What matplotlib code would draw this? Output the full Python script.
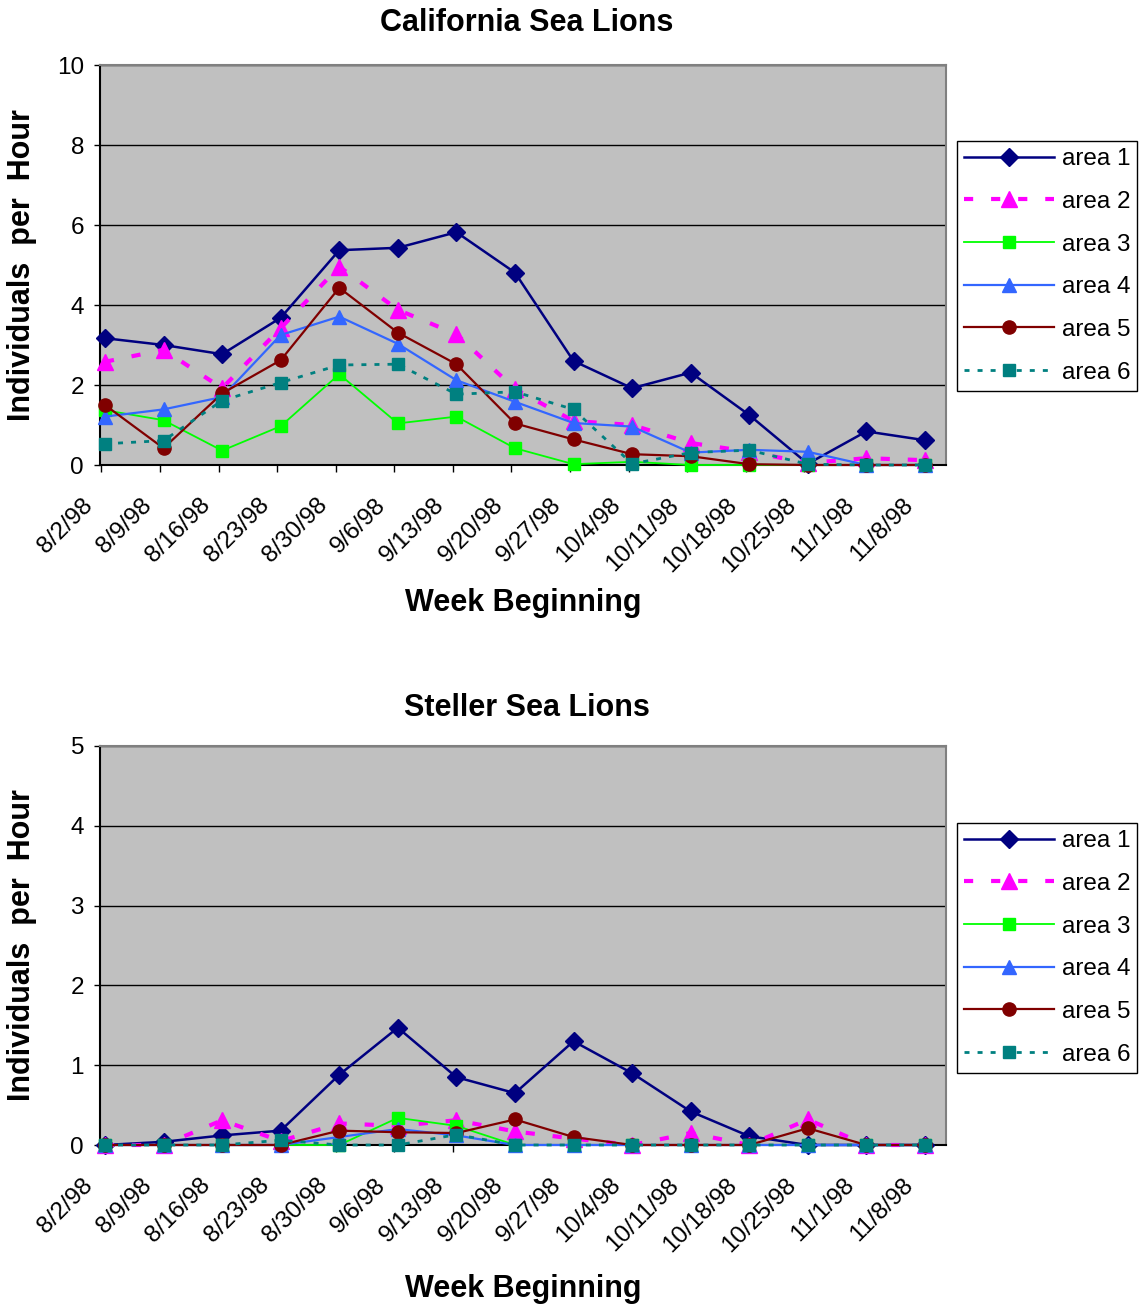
import matplotlib.pyplot as plt
from matplotlib.transforms import ScaledTranslation

plt.rcParams['font.family'] = ['Liberation Sans', 'DejaVu Sans']

weeks = ['8/2/98', '8/9/98', '8/16/98', '8/23/98', '8/30/98', '9/6/98',
         '9/13/98', '9/20/98', '9/27/98', '10/4/98', '10/11/98', '10/18/98',
         '10/25/98', '11/1/98', '11/8/98']

# California sea lions, individuals per hour by area
cal_area1 = [3.17, 3.0, 2.77, 3.68, 5.37, 5.43, 5.82, 4.81, 2.6, 1.92, 2.31, 1.25, 0.03, 0.84, 0.62]
cal_area2 = [2.58, 2.88, 1.92, 3.42, 4.96, 3.88, 3.27, 1.9, 1.1, 1.0, 0.55, 0.33, 0.05, 0.17, 0.12]
cal_area3 = [1.37, 1.12, 0.36, 0.97, 2.27, 1.04, 1.21, 0.42, 0.02, 0.08, 0.0, 0.0, 0.0, 0.0, 0.0]
cal_area4 = [1.21, 1.39, 1.7, 3.25, 3.71, 3.03, 2.12, 1.58, 1.05, 0.96, 0.31, 0.38, 0.33, 0.0, 0.0]
cal_area5 = [1.5, 0.42, 1.79, 2.62, 4.43, 3.31, 2.52, 1.04, 0.64, 0.27, 0.22, 0.02, 0.0, 0.0, 0.0]
cal_area6 = [0.53, 0.61, 1.61, 2.06, 2.5, 2.52, 1.77, 1.83, 1.39, 0.03, 0.31, 0.37, 0.02, 0.0, 0.0]

# Steller sea lions
stl_area1 = [0.0, 0.04, 0.12, 0.18, 0.88, 1.47, 0.85, 0.65, 1.3, 0.9, 0.42, 0.11, 0.0, 0.0, 0.0]
stl_area2 = [0.0, 0.0, 0.31, 0.05, 0.27, 0.24, 0.31, 0.17, 0.08, 0.0, 0.15, 0.0, 0.32, 0.0, 0.0]
stl_area3 = [0.0, 0.0, 0.0, 0.0, 0.0, 0.34, 0.24, 0.0, 0.0, 0.0, 0.0, 0.0, 0.0, 0.0, 0.0]
stl_area4 = [0.0, 0.0, 0.0, 0.0, 0.1, 0.2, 0.12, 0.0, 0.0, 0.0, 0.0, 0.0, 0.0, 0.0, 0.0]
stl_area5 = [0.0, 0.0, 0.0, 0.0, 0.18, 0.16, 0.15, 0.32, 0.1, 0.0, 0.0, 0.0, 0.21, 0.0, 0.0]
stl_area6 = [0.0, 0.0, 0.0, 0.06, 0.0, 0.0, 0.13, 0.0, 0.0, 0.0, 0.0, 0.0, 0.0, 0.0, 0.0]

labels = ['area 1', 'area 2', 'area 3', 'area 4', 'area 5', 'area 6']

# line style for each area: colour, marker, marker size, line style, line width
styles = [
    ('#000080', 'D', 9, '-', 1.8),
    ('#FF00FF', '^', 11, (0, (2.2, 4.3)), 3.0),
    ('#00FF00', 's', 8, '-', 1.3),
    ('#3366FF', '^', 10.5, '-', 1.6),
    ('#800000', 'o', 9.5, '-', 1.6),
    ('#008080', 's', 9, (0, (1.8, 2.9)), 2.0),
]

W, H = 1139, 1305
fig = plt.figure(figsize=(W / 100, H / 100), dpi=100)
fig.patch.set_facecolor('white')


def px(x0, y0, x1, y1):
    return [x0 / W, 1 - y1 / H, (x1 - x0) / W, (y1 - y0) / H]


def draw_panel(rect, series, ymax, ystep, title, title_y, xlabel_y, legend_top):
    ax = fig.add_axes(rect)
    ax.set_facecolor('#C0C0C0')
    x = list(range(len(weeks)))
    handles = []
    for i, (vals, (c, m, ms, ls, lw)) in enumerate(zip(series, styles)):
        h, = ax.plot(x, vals, color=c, marker=m, markersize=ms, linestyle=ls,
                     linewidth=lw, markerfacecolor=c, markeredgecolor=c,
                     clip_on=False, zorder=3 + i, label=labels[i])
        handles.append(h)

    ax.set_xlim(-0.085, 14.36)
    ax.set_ylim(0, ymax)
    ax.set_yticks([v * ystep for v in range(int(ymax / ystep) + 1)])
    ax.tick_params(axis='y', direction='out', length=4.5, width=1, labelsize=17.5, pad=7)
    ax.yaxis.grid(True, color='black', linewidth=1)
    ax.set_axisbelow(True)

    ax.set_xticks([v - 0.06 for v in x])
    ax.set_xticklabels(weeks, rotation=45, ha='right', fontsize=17.5)
    ax.tick_params(axis='x', direction='out', length=5, width=1, pad=16)
    shift = ScaledTranslation(-4 / 100, 0, fig.dpi_scale_trans)
    for lab in ax.get_xticklabels():
        lab.set_transform(lab.get_transform() + shift)

    for s in ['left', 'bottom']:
        ax.spines[s].set_color('black')
        ax.spines[s].set_linewidth(1.5)
    for s in ['top', 'right']:
        ax.spines[s].set_color('#808080')
        ax.spines[s].set_linewidth(1.5)

    cx = (rect[0] + rect[2] / 2)
    fig.text(527 / W, 1 - title_y / H, title, ha='center', va='center',
             fontsize=22, fontweight='bold')
    fig.text(cx, 1 - xlabel_y / H, 'Week Beginning', ha='center', va='center',
             fontsize=22, fontweight='bold')
    fig.text(22 / W, rect[1] + rect[3] / 2, 'Individuals  per  Hour', ha='center',
             va='center', rotation=90, fontsize=22, fontweight='bold')

    leg = fig.legend(handles=handles, loc='upper left',
                     bbox_to_anchor=(957 / W, 1 - legend_top / H),
                     fontsize=17.5, handlelength=3.7, handletextpad=0.3,
                     borderpad=0.3, labelspacing=0.85, borderaxespad=0,
                     fancybox=False, framealpha=1, edgecolor='black',
                     numpoints=1)
    leg.get_frame().set_linewidth(1)
    return ax


draw_panel(px(100, 65, 946, 465),
           [cal_area1, cal_area2, cal_area3, cal_area4, cal_area5, cal_area6],
           10, 2, 'California Sea Lions', 23, 603, 141)
draw_panel(px(100, 746, 946, 1145),
           [stl_area1, stl_area2, stl_area3, stl_area4, stl_area5, stl_area6],
           5, 1, 'Steller Sea Lions', 708, 1289, 823)

fig.savefig('out.png', dpi=100)
